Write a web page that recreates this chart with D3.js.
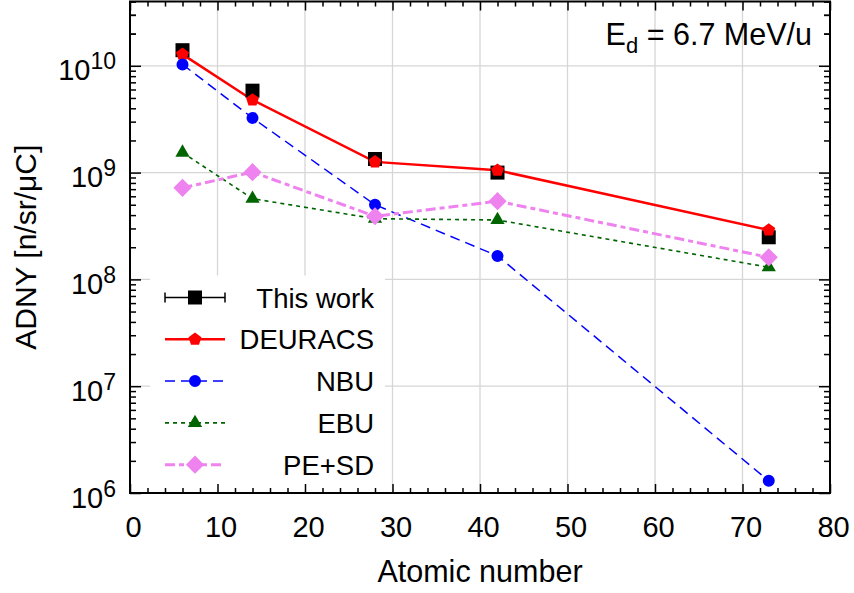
<!DOCTYPE html>
<html>
<head>
<meta charset="utf-8">
<script src="https://cdn.jsdelivr.net/npm/d3@7"></script>
<style>
  body { margin: 0; background: #fff; }
  svg { font-family: "Liberation Sans", Arial, sans-serif; }
</style>
</head>
<body>
<div class="chart-container"></div>
<script>
// atomic numbers of the targets
var atomicNumber = [6, 14, 28, 42, 73];

// ADNY values [n/sr/uC]
var thisWork = [1.40e10, 5.85e9, 1.34e9, 1.00e9, 2.48e8];
var deuracs  = [1.28e10, 4.79e9, 1.26e9, 1.05e9, 2.90e8];
var nbu      = [1.03e10, 3.25e9, 5.00e8, 1.66e8, 1.30e6];
var ebu      = [1.54e9, 5.70e8, 3.70e8, 3.60e8, 1.30e8];
var peSd     = [7.20e8, 1.01e9, 3.90e8, 5.40e8, 1.61e8];

var xMajor = [0, 10, 20, 30, 40, 50, 60, 70, 80];
var yDecades = [1e6, 1e7, 1e8, 1e9, 1e10];

var width = 854, height = 593;
var margin = {top: 1.5, right: 24, bottom: 100, left: 130};
var plotW = width - margin.left - margin.right,
    plotH = height - margin.top - margin.bottom;

var x = d3.scaleLinear().domain([0, 80]).range([0, plotW]);
var y = d3.scaleLog().domain([1e6, 4e10]).range([plotH, 0]);

// pentagon marker for DEURACS
var symbolPentagon = {
    draw: function (context, size) {
        var r = Math.sqrt(size / (2.5 * Math.sin(2 * Math.PI / 5)));
        for (var k = 0; k < 5; k++) {
            var a = -Math.PI / 2 + k * 2 * Math.PI / 5;
            if (k == 0) context.moveTo(r * Math.cos(a), r * Math.sin(a));
            else context.lineTo(r * Math.cos(a), r * Math.sin(a));
        }
        context.closePath();
    }
};

var series = [
    {name: "This work", values: thisWork, color: "#000", line: false, symbol: d3.symbolSquare, size: 196, rotate: 0, errBar: true},
    {name: "DEURACS", values: deuracs, color: "#ff0000", line: true, width: 2.5, dash: null, symbol: symbolPentagon, size: 110, rotate: 0},
    {name: "NBU", values: nbu, color: "#0000ff", line: true, width: 1.5, dash: "10,6", symbol: d3.symbolCircle, size: 113, rotate: 0},
    {name: "EBU", values: ebu, color: "#006400", line: true, width: 1.6, dash: "4,4", symbol: d3.symbolTriangle, size: 88, rotate: 0},
    {name: "PE+SD", values: peSd, color: "#ee82ee", line: true, width: 3, dash: "10,4,5,4", symbol: d3.symbolSquare, size: 165, rotate: 45}
];

var svg = d3.select(".chart-container").append("svg")
    .attr("width", width)
    .attr("height", height);

svg.append("rect").attr("width", width).attr("height", height).attr("fill", "#fff");

var g = svg.append("g")
    .attr("transform", "translate(" + margin.left + "," + margin.top + ")");

// grid
g.append("g").selectAll("line")
    .data(xMajor.slice(1, -1))
    .enter().append("line")
    .attr("x1", function (d) { return x(d); })
    .attr("x2", function (d) { return x(d); })
    .attr("y1", 0).attr("y2", plotH)
    .attr("stroke", "#d6d6d6").attr("stroke-width", 1.3);

g.append("g").selectAll("line")
    .data(yDecades.slice(1))
    .enter().append("line")
    .attr("y1", function (d) { return y(d); })
    .attr("y2", function (d) { return y(d); })
    .attr("x1", 0).attr("x2", plotW)
    .attr("stroke", "#d6d6d6").attr("stroke-width", 1.3);

// legend background
var legendG = g.append("g").attr("transform", "translate(20,274)");
legendG.append("rect")
    .attr("x", 0).attr("y", 0)
    .attr("width", 235).attr("height", 215)
    .attr("fill", "#fff");

// data
var line = d3.line()
    .x(function (d, i) { return x(atomicNumber[i]); })
    .y(function (d) { return y(d); });

series.forEach(function (s) {
    if (s.line) {
        g.append("path")
            .attr("d", line(s.values))
            .attr("fill", "none")
            .attr("stroke", s.color)
            .attr("stroke-width", s.width)
            .attr("stroke-dasharray", s.dash);
    }
});

series.forEach(function (s) {
    g.append("g").selectAll("path")
        .data(s.values)
        .enter().append("path")
        .attr("d", d3.symbol().type(s.symbol).size(s.size))
        .attr("transform", function (d, i) {
            return "translate(" + x(atomicNumber[i]) + "," + y(d) + ") rotate(" + s.rotate + ")";
        })
        .attr("fill", s.color);
});

// legend entries
series.forEach(function (s, i) {
    var row = legendG.append("g").attr("transform", "translate(0," + (22 + i * 41.8) + ")");
    if (s.errBar) {
        row.append("line").attr("x1", 15).attr("x2", 75).attr("stroke", "#000").attr("stroke-width", 1.5);
        row.selectAll(".cap").data([15, 75]).enter().append("line")
            .attr("x1", function (d) { return d; }).attr("x2", function (d) { return d; })
            .attr("y1", -5).attr("y2", 5)
            .attr("stroke", "#000").attr("stroke-width", 1.5);
    } else {
        row.append("line").attr("x1", 15).attr("x2", 75)
            .attr("stroke", s.color)
            .attr("stroke-width", s.width)
            .attr("stroke-dasharray", s.dash);
    }
    row.append("path")
        .attr("d", d3.symbol().type(s.symbol).size(s.size))
        .attr("transform", "translate(45,0) rotate(" + s.rotate + ")")
        .attr("fill", s.color);
    row.append("text")
        .attr("x", 224).attr("y", 10)
        .attr("text-anchor", "end")
        .attr("font-size", 27.5)
        .text(s.name);
});

// axes (ROOT style ticks inside on all four sides)
var xMinor = d3.range(0, 81, 2).filter(function (d) { return d % 10 != 0; });
var yMinor = [];
yDecades.concat([1e10]).forEach(function (dec) {
    for (var k = 2; k <= 9; k++) if (dec * k <= 4e10) yMinor.push(dec * k);
});

function styleAxis(sel) {
    sel.select(".domain").remove();
    sel.selectAll(".tick line").attr("stroke", "#000").attr("stroke-width", 1.5);
}

g.append("g").attr("transform", "translate(0," + plotH + ")")
    .call(d3.axisBottom(x).tickValues(xMajor).tickSize(-9).tickPadding(23).tickFormat(d3.format("d")))
    .call(styleAxis)
    .selectAll("text")
    .attr("font-size", 29).attr("font-family", "Liberation Sans, Arial, sans-serif")
    .attr("fill", "#000").attr("dx", 3);

g.append("g").attr("transform", "translate(0," + plotH + ")")
    .call(d3.axisBottom(x).tickValues(xMinor).tickSize(-5).tickFormat(""))
    .call(styleAxis);

g.append("g")
    .call(d3.axisTop(x).tickValues(xMajor).tickSize(-9).tickFormat(""))
    .call(styleAxis);
g.append("g")
    .call(d3.axisTop(x).tickValues(xMinor).tickSize(-5).tickFormat(""))
    .call(styleAxis);

var yAxisG = g.append("g")
    .call(d3.axisLeft(y).tickValues(yDecades).tickSize(-11).tickFormat(""))
    .call(styleAxis);
g.append("g")
    .call(d3.axisLeft(y).tickValues(yMinor).tickSize(-6).tickFormat(""))
    .call(styleAxis);

g.append("g").attr("transform", "translate(" + plotW + ",0)")
    .call(d3.axisRight(y).tickValues(yDecades).tickSize(-11).tickFormat(""))
    .call(styleAxis);
g.append("g").attr("transform", "translate(" + plotW + ",0)")
    .call(d3.axisRight(y).tickValues(yMinor).tickSize(-6).tickFormat(""))
    .call(styleAxis);

// y tick labels 10^n
yAxisG.selectAll(".tick").each(function (d) {
    var t = d3.select(this).append("text")
        .attr("x", -14).attr("y", 14)
        .attr("text-anchor", "end")
        .attr("fill", "#000")
        .attr("font-size", 29)
        .attr("font-family", "Liberation Sans, Arial, sans-serif");
    t.append("tspan").text("10");
    t.append("tspan").attr("dy", -11).attr("font-size", 23).text(Math.round(Math.log10(d)));
});

// frame
g.append("rect")
    .attr("width", plotW).attr("height", plotH)
    .attr("fill", "none").attr("stroke", "#000").attr("stroke-width", 2);

// axis titles
svg.append("text")
    .attr("x", margin.left + plotW / 2).attr("y", 582)
    .attr("text-anchor", "middle")
    .attr("font-size", 30.5)
    .text("Atomic number");

svg.append("text")
    .attr("transform", "translate(36," + (margin.top + plotH / 2) + ") rotate(-90)")
    .attr("text-anchor", "middle")
    .attr("font-size", 30)
    .text("ADNY [n/sr/\u03BCC]");

// beam energy label
var eLabel = svg.append("text")
    .attr("x", 812).attr("y", 45)
    .attr("text-anchor", "end")
    .attr("font-size", 30.5);
eLabel.append("tspan").text("E");
eLabel.append("tspan").attr("font-size", 22).attr("dy", 8).text("d");
eLabel.append("tspan").attr("dy", -8).text(" = 6.7 MeV/u");
</script>
</body>
</html>
